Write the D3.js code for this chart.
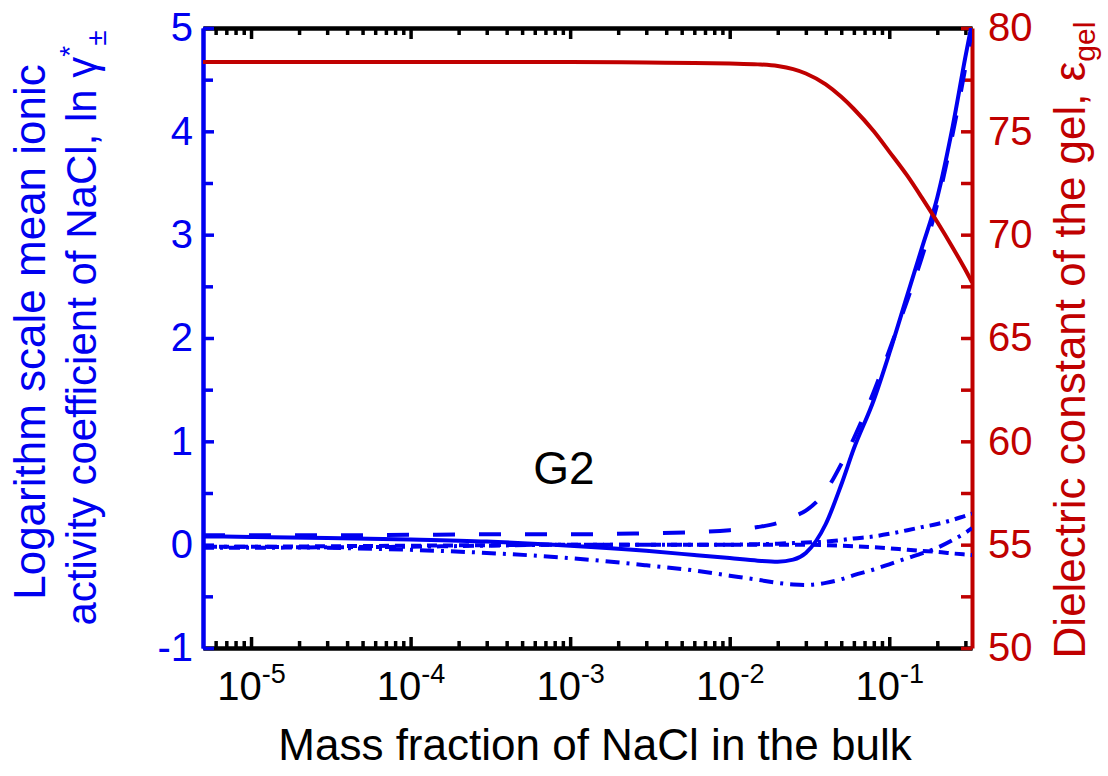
<!DOCTYPE html>
<html>
<head>
<meta charset="utf-8">
<script src="https://cdn.jsdelivr.net/npm/d3@7"></script>
<style>
    body { margin: 0; background: #ffffff; }
    text { font-family: Arial, 'Liberation Sans', sans-serif; }
</style>
</head>
<body>
<script>
// x grid: mass fraction of NaCl in the bulk
const massFraction = [5e-6, 1e-5, 3e-5, 1e-4, 3e-4, 1e-3, 3e-3, 6e-3, 0.01, 0.015, 0.02, 0.025,
    0.03, 0.04, 0.05, 0.06, 0.08, 0.1, 0.13, 0.16, 0.2, 0.25, 0.3, 0.33];

// ln gamma*± (left axis)
const lnGammaSolid = [0.08, 0.075, 0.065, 0.05, 0.03, -0.01, -0.06, -0.10, -0.13, -0.155, -0.165, -0.145,
    -0.08, 0.2, 0.58, 0.93, 1.40, 1.85, 2.42, 2.87, 3.36, 4.05, 4.72, 5.05];
const lnGammaLongDash = [0.09, 0.09, 0.09, 0.095, 0.1, 0.1, 0.11, 0.12, 0.14, 0.17, 0.21, 0.27,
    0.33, 0.52, 0.78, 1.03, 1.48, 1.88, 2.37, 2.78, 3.3, 3.98, 4.62, 4.98];
const lnGammaDash = [-0.02, -0.02, -0.015, -0.01, -0.005, 0, 0, 0, 0, 0, 0, 0,
    0, -0.005, -0.01, -0.015, -0.025, -0.035, -0.05, -0.06, -0.07, -0.085, -0.095, -0.1];
const lnGammaDashDotUp = [-0.03, -0.03, -0.025, -0.02, -0.01, 0, 0, 0, 0, 0.005, 0.01, 0.015,
    0.02, 0.03, 0.045, 0.06, 0.08, 0.105, 0.14, 0.17, 0.2, 0.24, 0.28, 0.3];
const lnGammaDashDotLow = [-0.02, -0.02, -0.03, -0.05, -0.08, -0.13, -0.2, -0.25, -0.3, -0.34, -0.37, -0.385,
    -0.39, -0.37, -0.335, -0.295, -0.24, -0.19, -0.13, -0.085, -0.03, 0.045, 0.115, 0.16];

// dielectric constant of the gel (right axis)
const epsilonGel = [78.36, 78.36, 78.36, 78.36, 78.36, 78.35, 78.33, 78.31, 78.28, 78.24, 78.16, 78.01,
    77.8, 77.27, 76.67, 76.08, 75.0, 74.02, 72.84, 71.79, 70.61, 69.37, 68.3, 67.7];

// ticks
const xMajorTicks = [1e-5, 1e-4, 1e-3, 1e-2, 1e-1];
const xExponents = ['-5', '-4', '-3', '-2', '-1'];
const yLeftTicks = [-1, 0, 1, 2, 3, 4, 5];
const yRightTicks = [50, 55, 60, 65, 70, 75, 80];

const width = 1108, height = 776;
const plot = {left: 203, right: 972, top: 28, bottom: 648};
const blue = '#0000f0', red = '#c00000';

const svg = d3.select('body')
    .append('svg')
    .attr('width', width)
    .attr('height', height);

// scales
const x = d3.scaleLog().domain([5e-6, 0.33]).range([plot.left, plot.right]);
const yL = d3.scaleLinear().domain([-1, 5]).range([plot.bottom, plot.top]);
const yR = d3.scaleLinear().domain([50, 80]).range([plot.bottom, plot.top]);

// minor x ticks 2..9 of each decade
const xMinorTicks = [];
for (let e = -6; e <= -1; e++) {
    for (let m = 2; m <= 9; m++) {
        const v = m * Math.pow(10, e);
        if (v >= 5e-6 && v <= 0.33) xMinorTicks.push(v);
    }
}

const styleAxis = (g, color) => {
    g.select('.domain').attr('stroke', color).attr('stroke-width', 4);
    g.selectAll('.tick line').attr('stroke', color).attr('stroke-width', 3.5);
};

// bottom / top axes (black)
[['bottom', plot.bottom, d3.axisBottom], ['top', plot.top, d3.axisTop]].forEach(([name, y0, ax]) => {
    const gMinor = svg.append('g')
        .attr('transform', `translate(0,${y0})`)
        .call(ax(x).tickValues(xMinorTicks).tickSizeInner(-7).tickSizeOuter(0).tickFormat(''));
    styleAxis(gMinor, '#000');
    const gMajor = svg.append('g')
        .attr('class', `x-${name}`)
        .attr('transform', `translate(0,${y0})`)
        .call(ax(x).tickValues(xMajorTicks).tickSizeInner(-11).tickSizeOuter(0).tickPadding(14).tickFormat(''));
    styleAxis(gMajor, '#000');
});

// bottom tick labels: 10 with superscript exponent
svg.select('g.x-bottom')
    .selectAll('.tick text')
    .attr('font-size', 40)
    .attr('fill', '#000')
    .attr('dy', '0.95em')
    .each(function (d, i) {
        const t = d3.select(this);
        t.append('tspan').text('10');
        t.append('tspan').attr('font-size', 27).attr('dy', -17).text(xExponents[i]);
    });

// left axis (blue)
const gLeftMinor = svg.append('g')
    .attr('transform', `translate(${plot.left},0)`)
    .call(d3.axisLeft(yL).tickValues(d3.range(-0.5, 5, 1)).tickSizeInner(-10).tickSizeOuter(0).tickFormat(''));
styleAxis(gLeftMinor, blue);
const gLeft = svg.append('g')
    .attr('transform', `translate(${plot.left},0)`)
    .call(d3.axisLeft(yL).tickValues(yLeftTicks).tickSizeInner(-11).tickSizeOuter(0).tickPadding(10).tickFormat(d3.format('d')));
styleAxis(gLeft, blue);
gLeft.selectAll('.tick text').attr('font-size', 40).attr('fill', blue).text(d => d < 0 ? '-' + (-d) : d);

// right axis (red)
const gRight = svg.append('g')
    .attr('transform', `translate(${plot.right},0)`)
    .call(d3.axisRight(yR).tickValues(d3.range(50, 80.1, 2.5)).tickSizeInner(-11).tickSizeOuter(0).tickPadding(16)
        .tickFormat(d => yRightTicks.includes(d) ? d : ''));
styleAxis(gRight, red);
gRight.selectAll('.tick text').attr('font-size', 40).attr('fill', red);

// curves
svg.append('clipPath').attr('id', 'plotClip')
    .append('rect')
    .attr('x', plot.left).attr('y', plot.top)
    .attr('width', plot.right - plot.left).attr('height', plot.bottom - plot.top);

const lineOf = (yScale) => d3.line()
    .x(d => x(d[0]))
    .y(d => yScale(d[1]))
    .curve(d3.curveMonotoneX);

const blueSeries = [
    {values: lnGammaDashDotLow, dash: '14,7,3,7'},
    {values: lnGammaDashDotUp, dash: '11,6,3,6'},
    {values: lnGammaDash, dash: '10,6'},
    {values: lnGammaLongDash, dash: '22,24'},
    {values: lnGammaSolid, dash: null}
];

const curves = svg.append('g').attr('clip-path', 'url(#plotClip)');
curves.selectAll('path.blue')
    .data(blueSeries)
    .enter()
    .append('path')
    .attr('class', 'blue')
    .attr('d', s => lineOf(yL)(massFraction.map((m, i) => [m, s.values[i]])))
    .attr('fill', 'none')
    .attr('stroke', blue)
    .attr('stroke-width', 4)
    .attr('stroke-dasharray', s => s.dash);

curves.append('path')
    .attr('d', lineOf(yR)(massFraction.map((m, i) => [m, epsilonGel[i]])))
    .attr('fill', 'none')
    .attr('stroke', red)
    .attr('stroke-width', 4);

// G2 annotation
svg.append('text')
    .attr('x', 564).attr('y', 484)
    .attr('text-anchor', 'middle')
    .attr('font-size', 46)
    .text('G2');

// axis titles
svg.append('text')
    .attr('x', 595).attr('y', 760)
    .attr('text-anchor', 'middle')
    .attr('font-size', 44)
    .text('Mass fraction of NaCl in the bulk');

const leftTitle = svg.append('g').attr('fill', blue);
leftTitle.append('text')
    .attr('transform', 'translate(45,332) rotate(-90)')
    .attr('text-anchor', 'middle')
    .attr('font-size', 44)
    .text('Logarithm scale mean ionic');
const lt2 = leftTitle.append('text')
    .attr('transform', 'translate(96,328) rotate(-90)')
    .attr('text-anchor', 'middle')
    .attr('font-size', 42);
lt2.append('tspan').text('activity coefficient of NaCl, ln γ');
lt2.append('tspan').attr('font-size', 28).attr('dy', -17).text('*');
lt2.append('tspan').attr('font-size', 28).attr('dy', 27).text('±');

const rt = svg.append('text')
    .attr('transform', 'translate(1085,340) rotate(-90)')
    .attr('text-anchor', 'middle')
    .attr('fill', red)
    .attr('font-size', 44);
rt.append('tspan').text('Dielectric constant of the gel, ε');
rt.append('tspan').attr('font-size', 30).attr('dy', 10).text('gel');
</script>
</body>
</html>
